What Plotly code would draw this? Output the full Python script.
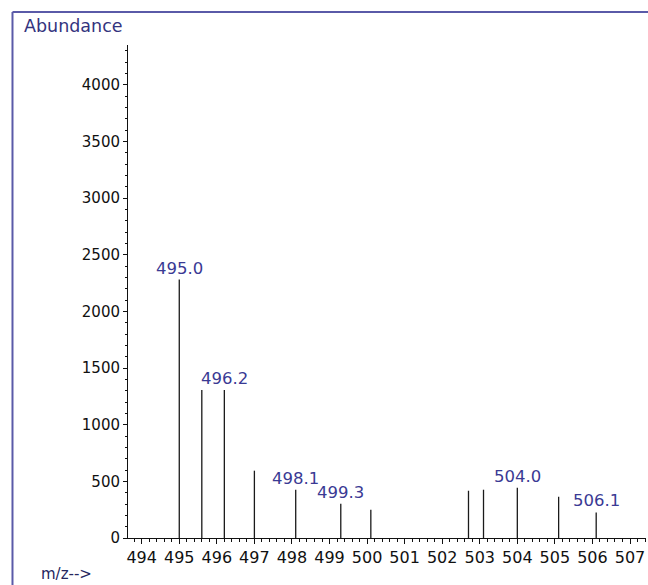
import plotly.graph_objects as go

# m/z values and abundances
mz = [495.0, 495.6, 496.2, 497.0, 498.1, 499.3, 500.1, 502.7, 503.1, 504.0, 505.1, 506.1]
abundance = [2280, 1305, 1305, 594, 426, 303, 250, 417, 426, 444, 364, 226]
peak_labels = ["495.0", "", "496.2", "", "498.1", "499.3", "", "", "", "504.0", "", "506.1"]

x_ticks = list(range(494, 508))
y_ticks = [0, 500, 1000, 1500, 2000, 2500, 3000, 3500, 4000]

# build stick segments from the data
seg_x, seg_y = [], []
for m, a in zip(mz, abundance):
    seg_x += [m, m, None]
    seg_y += [0, a, None]

fig = go.Figure()
fig.add_trace(go.Scatter(x=seg_x, y=seg_y, mode="lines",
                         line=dict(color="#1a1a1a", width=1.3),
                         hoverinfo="skip", showlegend=False))

label_color = "#3a3a94"
for m, a, t in zip(mz, abundance, peak_labels):
    if t:
        fig.add_annotation(x=m, y=a, text=t, showarrow=False,
                           xanchor="center", yanchor="bottom", yshift=0,
                           font=dict(family="DejaVu Sans", size=16.5, color=label_color))

fig.add_annotation(xref="paper", yref="paper", x=-0.2046, y=1.0385,
                   text="Abundance", showarrow=False, xanchor="left", yanchor="middle",
                   font=dict(family="DejaVu Sans", size=17.5, color="#33337e"))
fig.add_annotation(xref="paper", yref="paper", x=-0.172, y=-0.073,
                   text="m/z-->", showarrow=False, xanchor="left", yanchor="middle",
                   font=dict(family="DejaVu Sans", size=15, color="#26265e"))

frame_color = "#5a5aa8"
fig.add_shape(type="line", xref="paper", yref="paper", x0=-0.223, x1=1.03,
              y0=1.0669, y1=1.0669, line=dict(color=frame_color, width=2))
fig.add_shape(type="line", xref="paper", yref="paper", x0=-0.223, x1=-0.223,
              y0=1.0669, y1=-0.12, line=dict(color=frame_color, width=2))

fig.update_layout(
    width=648, height=585,
    margin=dict(l=128, r=2, t=45, b=47),
    paper_bgcolor="white", plot_bgcolor="white",
    showlegend=False,
    xaxis=dict(range=[493.635, 507.426], tickmode="array", tickvals=x_ticks,
               ticktext=[str(v) for v in x_ticks],
               showgrid=False, zeroline=False, showline=True, linecolor="#111",
               linewidth=1, ticks="outside", ticklen=5, tickcolor="#111",
               tickfont=dict(family="DejaVu Sans", size=16, color="#111"),
               minor=dict(dtick=0.2, tick0=494, ticks="outside", ticklen=3,
                          tickcolor="#111", showgrid=False)),
    yaxis=dict(range=[0, 4350], tickmode="array", tickvals=y_ticks,
               ticktext=[str(v) for v in y_ticks],
               showgrid=False, zeroline=False, showline=True, linecolor="#111",
               linewidth=1, ticks="outside", ticklen=4, tickcolor="#111",
               tickfont=dict(family="DejaVu Sans", size=15, color="#111"),
               minor=dict(dtick=100, tick0=0, ticks="outside", ticklen=2,
                          tickcolor="#111", showgrid=False)),
)

fig.write_html("out.html", config={"displayModeBar": False},
               post_script="document.body.style.margin='0';document.body.style.overflow='hidden';")
